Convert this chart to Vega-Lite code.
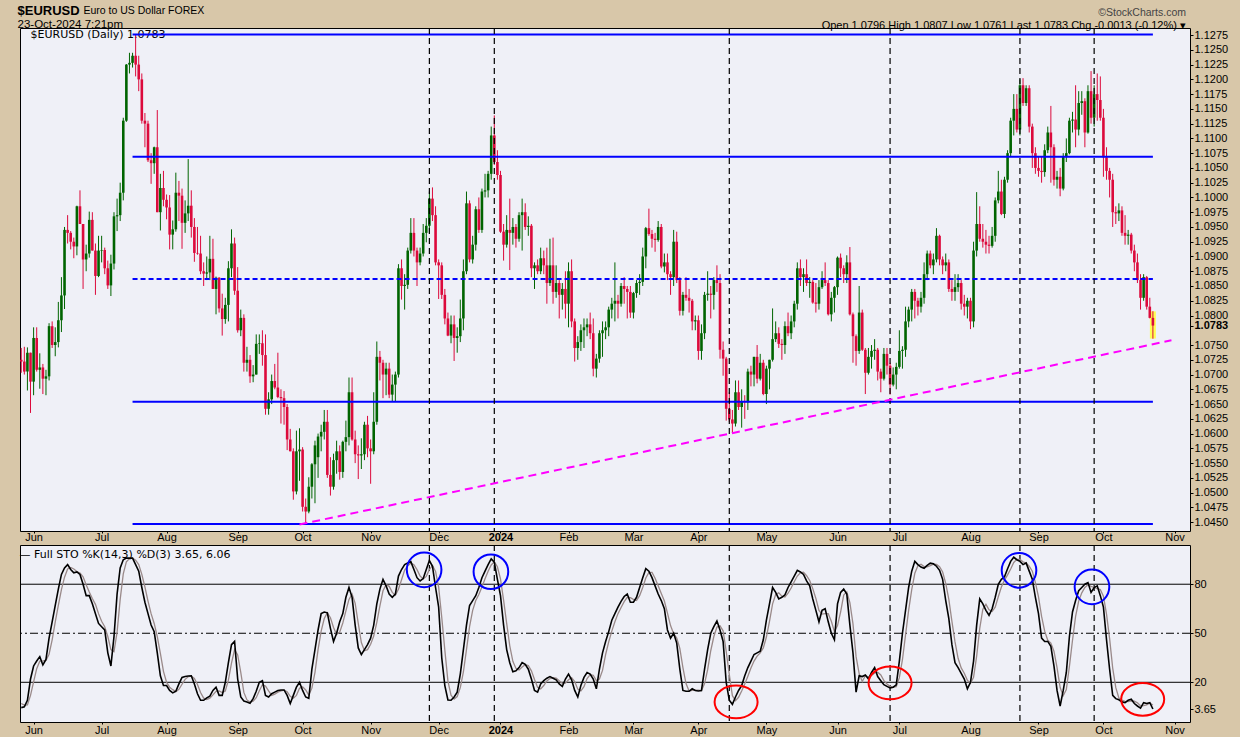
{
"$schema": "https://vega.github.io/schema/vega-lite/v6.json",
"background": "#d8c7a9",
"padding": {"left": 17, "top": 5, "right": 14, "bottom": 1},
"autosize": {"type": "pad"},
"config": {
  "view": {"fill": "#eff0f7", "stroke": "#000000", "strokeWidth": 1},
  "font": "Liberation Sans",
  "scale": {"continuousPadding": 0},
  "axis": {"labelFont": "Liberation Sans", "labelFontSize": 11, "labelColor": "#000000", "tickColor": "#000000", "domain": false, "grid": false, "labelOverlap": false}
},
"datasets": {
"px": [
{"o":1.0725,"h":1.0745,"l":1.0703,"c":1.0722,"k":4.5,"d":7},
{"o":1.0722,"h":1.0747,"l":1.0700,"c":1.0705,"k":5,"d":6},
{"o":1.0705,"h":1.0746,"l":1.0673,"c":1.0737,"k":9,"d":6.2},
{"o":1.0737,"h":1.0737,"l":1.0635,"c":1.0688,"k":22,"d":12},
{"o":1.0688,"h":1.0780,"l":1.0665,"c":1.0762,"k":30,"d":20.3},
{"o":1.0762,"h":1.0780,"l":1.0705,"c":1.0708,"k":33,"d":28.3},
{"o":1.0708,"h":1.0736,"l":1.0676,"c":1.0712,"k":35.7,"d":32.9},
{"o":1.0712,"h":1.0718,"l":1.0667,"c":1.0693,"k":30.6,"d":33.1},
{"o":1.0693,"h":1.0708,"l":1.0665,"c":1.0697,"k":34,"d":33.4},
{"o":1.0697,"h":1.0787,"l":1.0690,"c":1.0782,"k":47,"d":37.2},
{"o":1.0782,"h":1.0790,"l":1.0745,"c":1.0750,"k":57,"d":46},
{"o":1.0750,"h":1.0780,"l":1.0731,"c":1.0755,"k":67,"d":57},
{"o":1.0755,"h":1.0823,"l":1.0746,"c":1.0792,"k":77,"d":67},
{"o":1.0792,"h":1.0865,"l":1.0772,"c":1.0834,"k":86,"d":76.7},
{"o":1.0834,"h":1.0950,"l":1.0811,"c":1.0945,"k":90,"d":84.3},
{"o":1.0945,"h":1.0970,"l":1.0922,"c":1.0940,"k":92,"d":89.3},
{"o":1.0940,"h":1.0943,"l":1.0912,"c":1.0925,"k":89,"d":90.3},
{"o":1.0925,"h":1.0932,"l":1.0897,"c":1.0917,"k":87,"d":89.3},
{"o":1.0917,"h":1.0986,"l":1.0902,"c":1.0985,"k":87.5,"d":87.8},
{"o":1.0985,"h":1.1012,"l":1.0955,"c":1.0955,"k":86,"d":86.8},
{"o":1.0955,"h":1.0955,"l":1.0845,"c":1.0895,"k":80,"d":84.5},
{"o":1.0895,"h":1.0920,"l":1.0875,"c":1.0905,"k":73,"d":79.7},
{"o":1.0905,"h":1.0976,"l":1.0898,"c":1.0962,"k":73,"d":75.3},
{"o":1.0962,"h":1.0975,"l":1.0910,"c":1.0910,"k":68,"d":71.3},
{"o":1.0910,"h":1.0922,"l":1.0835,"c":1.0867,"k":62,"d":67.7},
{"o":1.0867,"h":1.0935,"l":1.0865,"c":1.0910,"k":56,"d":62},
{"o":1.0910,"h":1.0935,"l":1.0890,"c":1.0911,"k":54,"d":57.3},
{"o":1.0911,"h":1.0915,"l":1.0870,"c":1.0880,"k":52,"d":54},
{"o":1.0880,"h":1.0893,"l":1.0845,"c":1.0851,"k":38,"d":48},
{"o":1.0851,"h":1.0903,"l":1.0833,"c":1.0888,"k":30,"d":40},
{"o":1.0888,"h":1.0975,"l":1.0878,"c":1.0968,"k":48,"d":38.7},
{"o":1.0968,"h":1.0998,"l":1.0943,"c":1.0970,"k":74,"d":50.7},
{"o":1.0970,"h":1.1025,"l":1.0960,"c":1.1008,"k":90,"d":70.7},
{"o":1.1008,"h":1.1135,"l":1.0995,"c":1.1130,"k":95,"d":86.3},
{"o":1.1130,"h":1.1226,"l":1.1128,"c":1.1225,"k":96,"d":93.7},
{"o":1.1225,"h":1.1245,"l":1.1210,"c":1.1228,"k":96,"d":95.7},
{"o":1.1228,"h":1.1245,"l":1.1220,"c":1.1240,"k":96,"d":96},
{"o":1.1240,"h":1.1276,"l":1.1205,"c":1.1225,"k":92,"d":94.7},
{"o":1.1225,"h":1.1240,"l":1.1180,"c":1.1200,"k":88,"d":92},
{"o":1.1200,"h":1.1210,"l":1.1125,"c":1.1130,"k":78,"d":86},
{"o":1.1130,"h":1.1143,"l":1.1085,"c":1.1125,"k":69,"d":78.3},
{"o":1.1125,"h":1.1130,"l":1.1060,"c":1.1063,"k":62,"d":69.7},
{"o":1.1063,"h":1.1075,"l":1.1023,"c":1.1058,"k":55,"d":62},
{"o":1.1058,"h":1.1086,"l":1.1040,"c":1.1085,"k":51,"d":56},
{"o":1.1085,"h":1.1148,"l":1.0975,"c":1.0975,"k":38,"d":48},
{"o":1.0975,"h":1.1040,"l":1.0944,"c":1.1016,"k":24,"d":37.7},
{"o":1.1016,"h":1.1045,"l":1.0985,"c":1.0996,"k":18,"d":26.7},
{"o":1.0996,"h":1.1005,"l":1.0963,"c":1.0983,"k":18,"d":20},
{"o":1.0983,"h":1.1004,"l":1.0912,"c":1.0937,"k":15,"d":17},
{"o":1.0937,"h":1.0961,"l":1.0912,"c":1.0946,"k":13.5,"d":15.5},
{"o":1.0946,"h":1.1042,"l":1.0942,"c":1.1008,"k":14.5,"d":14.3},
{"o":1.1008,"h":1.1028,"l":1.0960,"c":1.1003,"k":19,"d":15.7},
{"o":1.1003,"h":1.1015,"l":1.0913,"c":1.0957,"k":23,"d":18.8},
{"o":1.0957,"h":1.0995,"l":1.0940,"c":1.0973,"k":23.5,"d":21.8},
{"o":1.0973,"h":1.1065,"l":1.0960,"c":1.0986,"k":23.8,"d":23.4},
{"o":1.0986,"h":1.1012,"l":1.0932,"c":1.0950,"k":24,"d":23.8},
{"o":1.0950,"h":1.0965,"l":1.0891,"c":1.0906,"k":19,"d":22.3},
{"o":1.0906,"h":1.0950,"l":1.0903,"c":1.0905,"k":13,"d":18.7},
{"o":1.0905,"h":1.0935,"l":1.0870,"c":1.0875,"k":9,"d":13.7},
{"o":1.0875,"h":1.0890,"l":1.0850,"c":1.0871,"k":9,"d":10.3},
{"o":1.0871,"h":1.0900,"l":1.0860,"c":1.0873,"k":10.5,"d":9.5},
{"o":1.0873,"h":1.0935,"l":1.0860,"c":1.0896,"k":11.5,"d":10.3},
{"o":1.0896,"h":1.0930,"l":1.0845,"c":1.0845,"k":15,"d":12.3},
{"o":1.0845,"h":1.0866,"l":1.0802,"c":1.0864,"k":17,"d":14.5},
{"o":1.0864,"h":1.0865,"l":1.0805,"c":1.0812,"k":12,"d":14.7},
{"o":1.0812,"h":1.0837,"l":1.0766,"c":1.0794,"k":12,"d":13.7},
{"o":1.0794,"h":1.0830,"l":1.0786,"c":1.0818,"k":20,"d":14.7},
{"o":1.0818,"h":1.0892,"l":1.0790,"c":1.0880,"k":32,"d":21.3},
{"o":1.0880,"h":1.0946,"l":1.0865,"c":1.0922,"k":43,"d":31.7},
{"o":1.0922,"h":1.0932,"l":1.0835,"c":1.0842,"k":45,"d":40},
{"o":1.0842,"h":1.0882,"l":1.0771,"c":1.0775,"k":22,"d":36.7},
{"o":1.0775,"h":1.0810,"l":1.0765,"c":1.0796,"k":11,"d":26},
{"o":1.0796,"h":1.0802,"l":1.0705,"c":1.0720,"k":8.5,"d":13.8},
{"o":1.0720,"h":1.0747,"l":1.0705,"c":1.0725,"k":8,"d":9.2},
{"o":1.0725,"h":1.0733,"l":1.0686,"c":1.0697,"k":7.2,"d":7.9},
{"o":1.0697,"h":1.0716,"l":1.0687,"c":1.0700,"k":10,"d":8.4},
{"o":1.0700,"h":1.0768,"l":1.0700,"c":1.0752,"k":14.5,"d":10.6},
{"o":1.0752,"h":1.0768,"l":1.0735,"c":1.0753,"k":20,"d":14.8},
{"o":1.0753,"h":1.0775,"l":1.0715,"c":1.0733,"k":21,"d":18.5},
{"o":1.0733,"h":1.0768,"l":1.0632,"c":1.0642,"k":12,"d":17.7},
{"o":1.0642,"h":1.0670,"l":1.0632,"c":1.0658,"k":11,"d":14.7},
{"o":1.0658,"h":1.0700,"l":1.0650,"c":1.0689,"k":13,"d":12},
{"o":1.0689,"h":1.0718,"l":1.0675,"c":1.0678,"k":14,"d":12.7},
{"o":1.0678,"h":1.0737,"l":1.0660,"c":1.0662,"k":15,"d":14},
{"o":1.0662,"h":1.0675,"l":1.0617,"c":1.0660,"k":15.3,"d":14.8},
{"o":1.0660,"h":1.0672,"l":1.0615,"c":1.0645,"k":15.3,"d":15.2},
{"o":1.0645,"h":1.0650,"l":1.0572,"c":1.0590,"k":12,"d":14.2},
{"o":1.0590,"h":1.0608,"l":1.0570,"c":1.0570,"k":7,"d":11.4},
{"o":1.0570,"h":1.0575,"l":1.0488,"c":1.0502,"k":12,"d":10.3},
{"o":1.0502,"h":1.0605,"l":1.0497,"c":1.0570,"k":17,"d":12},
{"o":1.0570,"h":1.0609,"l":1.0520,"c":1.0573,"k":20,"d":16.3},
{"o":1.0573,"h":1.0577,"l":1.0468,"c":1.0476,"k":15,"d":17.3},
{"o":1.0476,"h":1.0490,"l":1.0448,"c":1.0468,"k":11,"d":15.3},
{"o":1.0468,"h":1.0526,"l":1.0465,"c":1.0510,"k":10.2,"d":12.1},
{"o":1.0510,"h":1.0550,"l":1.0490,"c":1.0548,"k":28,"d":16.4},
{"o":1.0548,"h":1.0588,"l":1.0482,"c":1.0580,"k":40,"d":26.1},
{"o":1.0560,"h":1.0600,"l":1.0525,"c":1.0595,"k":52,"d":40},
{"o":1.0595,"h":1.0615,"l":1.0570,"c":1.0603,"k":62,"d":51.3},
{"o":1.0603,"h":1.0640,"l":1.0590,"c":1.0620,"k":63,"d":59},
{"o":1.0620,"h":1.0640,"l":1.0525,"c":1.0530,"k":62.5,"d":62.5},
{"o":1.0530,"h":1.0560,"l":1.0495,"c":1.0510,"k":53,"d":59.5},
{"o":1.0510,"h":1.0566,"l":1.0505,"c":1.0555,"k":45,"d":53.5},
{"o":1.0555,"h":1.0588,"l":1.0532,"c":1.0570,"k":50,"d":49.3},
{"o":1.0570,"h":1.0580,"l":1.0522,"c":1.0535,"k":57,"d":50.7},
{"o":1.0535,"h":1.0588,"l":1.0525,"c":1.0586,"k":62,"d":56.3},
{"o":1.0586,"h":1.0622,"l":1.0570,"c":1.0594,"k":72,"d":63.7},
{"o":1.0594,"h":1.0695,"l":1.0580,"c":1.0670,"k":78,"d":70.7},
{"o":1.0670,"h":1.0695,"l":1.0588,"c":1.0590,"k":72,"d":74},
{"o":1.0590,"h":1.0605,"l":1.0550,"c":1.0565,"k":55,"d":68.3},
{"o":1.0565,"h":1.0580,"l":1.0523,"c":1.0563,"k":41,"d":56},
{"o":1.0563,"h":1.0592,"l":1.0540,"c":1.0565,"k":37,"d":44.3},
{"o":1.0565,"h":1.0620,"l":1.0555,"c":1.0615,"k":40,"d":39.3},
{"o":1.0615,"h":1.0630,"l":1.0560,"c":1.0575,"k":43,"d":40},
{"o":1.0575,"h":1.0590,"l":1.0515,"c":1.0570,"k":47,"d":43.3},
{"o":1.0570,"h":1.0670,"l":1.0565,"c":1.0620,"k":55,"d":48.3},
{"o":1.0620,"h":1.0756,"l":1.0615,"c":1.0730,"k":68,"d":56.7},
{"o":1.0730,"h":1.0740,"l":1.0690,"c":1.0720,"k":77,"d":66.7},
{"o":1.0720,"h":1.0725,"l":1.0660,"c":1.0700,"k":83,"d":76},
{"o":1.0700,"h":1.0720,"l":1.0665,"c":1.0710,"k":79,"d":79.7},
{"o":1.0710,"h":1.0720,"l":1.0660,"c":1.0666,"k":74,"d":78.7},
{"o":1.0666,"h":1.0700,"l":1.0655,"c":1.0683,"k":72,"d":75},
{"o":1.0683,"h":1.0705,"l":1.0655,"c":1.0700,"k":74,"d":73.3},
{"o":1.0700,"h":1.0887,"l":1.0695,"c":1.0880,"k":85,"d":77},
{"o":1.0880,"h":1.0895,"l":1.0827,"c":1.0850,"k":89,"d":82.7},
{"o":1.0850,"h":1.0870,"l":1.0810,"c":1.0852,"k":92,"d":88.7},
{"o":1.0852,"h":1.0915,"l":1.0845,"c":1.0910,"k":93,"d":91.3},
{"o":1.0910,"h":1.0965,"l":1.0905,"c":1.0940,"k":93.8,"d":92.9},
{"o":1.0940,"h":1.0965,"l":1.0900,"c":1.0910,"k":89,"d":91.9},
{"o":1.0910,"h":1.0915,"l":1.0850,"c":1.0890,"k":84,"d":88.9},
{"o":1.0890,"h":1.0915,"l":1.0885,"c":1.0905,"k":82,"d":85},
{"o":1.0905,"h":1.0955,"l":1.0900,"c":1.0940,"k":83.5,"d":83.2},
{"o":1.0940,"h":1.0965,"l":1.0924,"c":1.0952,"k":89,"d":84.8},
{"o":1.0952,"h":1.1010,"l":1.0940,"c":1.0998,"k":94.5,"d":89},
{"o":1.0998,"h":1.1017,"l":1.0960,"c":1.0970,"k":91,"d":91.5},
{"o":1.0970,"h":1.0985,"l":1.0885,"c":1.0890,"k":78,"d":87.8},
{"o":1.0890,"h":1.0895,"l":1.0828,"c":1.0885,"k":66,"d":78.3},
{"o":1.0885,"h":1.0890,"l":1.0828,"c":1.0835,"k":35,"d":59.7},
{"o":1.0835,"h":1.0845,"l":1.0785,"c":1.0795,"k":18,"d":39.7},
{"o":1.0795,"h":1.0805,"l":1.0765,"c":1.0766,"k":9.2,"d":20.7},
{"o":1.0766,"h":1.0800,"l":1.0753,"c":1.0785,"k":9,"d":12.1},
{"o":1.0785,"h":1.0800,"l":1.0723,"c":1.0762,"k":11,"d":9.7},
{"o":1.0762,"h":1.0780,"l":1.0737,"c":1.0765,"k":14,"d":11.3},
{"o":1.0765,"h":1.0827,"l":1.0755,"c":1.0795,"k":25,"d":16.7},
{"o":1.0795,"h":1.0895,"l":1.0775,"c":1.0875,"k":40,"d":26.3},
{"o":1.0875,"h":1.1010,"l":1.0870,"c":1.0990,"k":55,"d":40},
{"o":1.0990,"h":1.0995,"l":1.0890,"c":1.0895,"k":67,"d":54},
{"o":1.0895,"h":1.0935,"l":1.0888,"c":1.0920,"k":70,"d":64},
{"o":1.0920,"h":1.0985,"l":1.0910,"c":1.0980,"k":73,"d":70},
{"o":1.0980,"h":1.1000,"l":1.0940,"c":1.0945,"k":78,"d":73.7},
{"o":1.0945,"h":1.1015,"l":1.0940,"c":1.1010,"k":84,"d":78.3},
{"o":1.1010,"h":1.1040,"l":1.1000,"c":1.1012,"k":88,"d":83.3},
{"o":1.1012,"h":1.1045,"l":1.1000,"c":1.1040,"k":92,"d":88},
{"o":1.1040,"h":1.1120,"l":1.1030,"c":1.1105,"k":95.5,"d":91.8},
{"o":1.1105,"h":1.1139,"l":1.1055,"c":1.1060,"k":93.5,"d":93.7},
{"o":1.1060,"h":1.1080,"l":1.1030,"c":1.1038,"k":83,"d":90.7},
{"o":1.1038,"h":1.1045,"l":1.0940,"c":1.0942,"k":73,"d":83.2},
{"o":1.0942,"h":1.0955,"l":1.0893,"c":1.0920,"k":55,"d":70.3},
{"o":1.0920,"h":1.0970,"l":1.0915,"c":1.0945,"k":40,"d":56},
{"o":1.0945,"h":1.0998,"l":1.0877,"c":1.0940,"k":32,"d":42.3},
{"o":1.0940,"h":1.0965,"l":1.0920,"c":1.0950,"k":26.5,"d":32.8},
{"o":1.0950,"h":1.0955,"l":1.0915,"c":1.0930,"k":27,"d":28.5},
{"o":1.0930,"h":1.0975,"l":1.0925,"c":1.0970,"k":29,"d":27.5},
{"o":1.0970,"h":1.0998,"l":1.0910,"c":1.0975,"k":32,"d":29.3},
{"o":1.0975,"h":1.0990,"l":1.0945,"c":1.0950,"k":31,"d":30.7},
{"o":1.0950,"h":1.0968,"l":1.0935,"c":1.0952,"k":28,"d":30.3},
{"o":1.0952,"h":1.0955,"l":1.0865,"c":1.0880,"k":22,"d":27},
{"o":1.0880,"h":1.0890,"l":1.0845,"c":1.0885,"k":15,"d":21.7},
{"o":1.0885,"h":1.0895,"l":1.0870,"c":1.0875,"k":14,"d":17},
{"o":1.0875,"h":1.0915,"l":1.0870,"c":1.0897,"k":19,"d":16},
{"o":1.0897,"h":1.0910,"l":1.0870,"c":1.0885,"k":21,"d":18},
{"o":1.0885,"h":1.0915,"l":1.0820,"c":1.0855,"k":22.5,"d":20.8},
{"o":1.0855,"h":1.0930,"l":1.0850,"c":1.0885,"k":23.5,"d":22.3},
{"o":1.0885,"h":1.0932,"l":1.0820,"c":1.0840,"k":22.5,"d":22.8},
{"o":1.0840,"h":1.0885,"l":1.0830,"c":1.0855,"k":21.5,"d":22.5},
{"o":1.0855,"h":1.0860,"l":1.0795,"c":1.0835,"k":19,"d":21},
{"o":1.0835,"h":1.0855,"l":1.0810,"c":1.0845,"k":17.5,"d":19.3},
{"o":1.0845,"h":1.0875,"l":1.0795,"c":1.0820,"k":22,"d":19.5},
{"o":1.0820,"h":1.0890,"l":1.0780,"c":1.0875,"k":25,"d":21.5},
{"o":1.0875,"h":1.0895,"l":1.0780,"c":1.0790,"k":21.5,"d":22.8},
{"o":1.0790,"h":1.0795,"l":1.0722,"c":1.0745,"k":15,"d":20.5},
{"o":1.0745,"h":1.0765,"l":1.0725,"c":1.0755,"k":11,"d":15.8},
{"o":1.0755,"h":1.0785,"l":1.0740,"c":1.0775,"k":18,"d":14.7},
{"o":1.0775,"h":1.0795,"l":1.0745,"c":1.0780,"k":23,"d":17.3},
{"o":1.0780,"h":1.0795,"l":1.0765,"c":1.0785,"k":26,"d":22.3},
{"o":1.0785,"h":1.0805,"l":1.0760,"c":1.0770,"k":25,"d":24.7},
{"o":1.0770,"h":1.0795,"l":1.0697,"c":1.0710,"k":22,"d":24.3},
{"o":1.0710,"h":1.0735,"l":1.0695,"c":1.0727,"k":16,"d":21},
{"o":1.0727,"h":1.0775,"l":1.0720,"c":1.0770,"k":28,"d":22},
{"o":1.0770,"h":1.0790,"l":1.0730,"c":1.0775,"k":38,"d":27.3},
{"o":1.0775,"h":1.0790,"l":1.0760,"c":1.0780,"k":45,"d":37},
{"o":1.0780,"h":1.0815,"l":1.0765,"c":1.0810,"k":51,"d":44.7},
{"o":1.0810,"h":1.0830,"l":1.0795,"c":1.0820,"k":58,"d":51.3},
{"o":1.0820,"h":1.0890,"l":1.0790,"c":1.0825,"k":62,"d":57},
{"o":1.0825,"h":1.0835,"l":1.0795,"c":1.0820,"k":66,"d":62},
{"o":1.0820,"h":1.0855,"l":1.0815,"c":1.0850,"k":69.5,"d":65.8},
{"o":1.0850,"h":1.0865,"l":1.0820,"c":1.0845,"k":72.5,"d":69.3},
{"o":1.0845,"h":1.0850,"l":1.0795,"c":1.0840,"k":74,"d":72},
{"o":1.0840,"h":1.0850,"l":1.0796,"c":1.0805,"k":69,"d":71.8},
{"o":1.0805,"h":1.0840,"l":1.0795,"c":1.0838,"k":69,"d":70.7},
{"o":1.0838,"h":1.0860,"l":1.0830,"c":1.0855,"k":72,"d":70},
{"o":1.0855,"h":1.0870,"l":1.0835,"c":1.0857,"k":78,"d":73},
{"o":1.0857,"h":1.0915,"l":1.0850,"c":1.0900,"k":84,"d":78},
{"o":1.0900,"h":1.0950,"l":1.0880,"c":1.0948,"k":89.5,"d":83.8},
{"o":1.0948,"h":1.0981,"l":1.0935,"c":1.0938,"k":88,"d":87.2},
{"o":1.0938,"h":1.0945,"l":1.0915,"c":1.0930,"k":84,"d":87.2},
{"o":1.0930,"h":1.0940,"l":1.0908,"c":1.0928,"k":79,"d":83.7},
{"o":1.0928,"h":1.0960,"l":1.0925,"c":1.0950,"k":74,"d":79},
{"o":1.0950,"h":1.0955,"l":1.0880,"c":1.0883,"k":70,"d":74.3},
{"o":1.0883,"h":1.0905,"l":1.0873,"c":1.0890,"k":65,"d":69.7},
{"o":1.0890,"h":1.0905,"l":1.0860,"c":1.0870,"k":52,"d":62.3},
{"o":1.0870,"h":1.0875,"l":1.0835,"c":1.0865,"k":47,"d":54.7},
{"o":1.0865,"h":1.0945,"l":1.0850,"c":1.0925,"k":50,"d":49.7},
{"o":1.0925,"h":1.0942,"l":1.0855,"c":1.0860,"k":44,"d":47},
{"o":1.0860,"h":1.0865,"l":1.0800,"c":1.0808,"k":28,"d":40.7},
{"o":1.0808,"h":1.0840,"l":1.0800,"c":1.0835,"k":15,"d":29},
{"o":1.0835,"h":1.0865,"l":1.0825,"c":1.0830,"k":14.5,"d":19.2},
{"o":1.0830,"h":1.0845,"l":1.0805,"c":1.0825,"k":14.5,"d":14.7},
{"o":1.0825,"h":1.0828,"l":1.0775,"c":1.0790,"k":16,"d":15},
{"o":1.0790,"h":1.0800,"l":1.0775,"c":1.0792,"k":15,"d":15.2},
{"o":1.0792,"h":1.0800,"l":1.0725,"c":1.0740,"k":14.7,"d":15.2},
{"o":1.0740,"h":1.0785,"l":1.0725,"c":1.0770,"k":15,"d":14.9},
{"o":1.0770,"h":1.0840,"l":1.0760,"c":1.0835,"k":28,"d":19.2},
{"o":1.0835,"h":1.0875,"l":1.0825,"c":1.0837,"k":40,"d":27.7},
{"o":1.0837,"h":1.0850,"l":1.0795,"c":1.0835,"k":50,"d":39.3},
{"o":1.0835,"h":1.0865,"l":1.0810,"c":1.0860,"k":54,"d":48},
{"o":1.0860,"h":1.0885,"l":1.0840,"c":1.0855,"k":57.5,"d":53.8},
{"o":1.0855,"h":1.0870,"l":1.0727,"c":1.0742,"k":52,"d":54.5},
{"o":1.0742,"h":1.0756,"l":1.0698,"c":1.0727,"k":45,"d":51.5},
{"o":1.0727,"h":1.0730,"l":1.0622,"c":1.0642,"k":20,"d":39},
{"o":1.0642,"h":1.0670,"l":1.0620,"c":1.0624,"k":9,"d":24.7},
{"o":1.0624,"h":1.0640,"l":1.0601,"c":1.0617,"k":6.5,"d":11.8},
{"o":1.0617,"h":1.0690,"l":1.0612,"c":1.0670,"k":11,"d":8.8},
{"o":1.0670,"h":1.0690,"l":1.0640,"c":1.0645,"k":15,"d":10.8},
{"o":1.0645,"h":1.0675,"l":1.0610,"c":1.0655,"k":18,"d":14.7},
{"o":1.0655,"h":1.0665,"l":1.0625,"c":1.0653,"k":24,"d":19},
{"o":1.0653,"h":1.0710,"l":1.0640,"c":1.0705,"k":29,"d":23.7},
{"o":1.0705,"h":1.0715,"l":1.0680,"c":1.0700,"k":33,"d":28.7},
{"o":1.0700,"h":1.0730,"l":1.0680,"c":1.0730,"k":37,"d":33},
{"o":1.0730,"h":1.0750,"l":1.0685,"c":1.0693,"k":38,"d":36},
{"o":1.0693,"h":1.0735,"l":1.0690,"c":1.0720,"k":39,"d":38},
{"o":1.0720,"h":1.0725,"l":1.0665,"c":1.0667,"k":46,"d":41},
{"o":1.0667,"h":1.0715,"l":1.0650,"c":1.0710,"k":58,"d":47.7},
{"o":1.0710,"h":1.0725,"l":1.0675,"c":1.0725,"k":68,"d":57.3},
{"o":1.0725,"h":1.0812,"l":1.0722,"c":1.0760,"k":78,"d":68},
{"o":1.0760,"h":1.0790,"l":1.0755,"c":1.0770,"k":75,"d":73.7},
{"o":1.0770,"h":1.0780,"l":1.0745,"c":1.0752,"k":71,"d":74.7},
{"o":1.0752,"h":1.0760,"l":1.0725,"c":1.0750,"k":72,"d":72.7},
{"o":1.0750,"h":1.0790,"l":1.0735,"c":1.0782,"k":73.5,"d":72.2},
{"o":1.0782,"h":1.0805,"l":1.0765,"c":1.0770,"k":78,"d":74.5},
{"o":1.0770,"h":1.0800,"l":1.0760,"c":1.0790,"k":81.5,"d":77.7},
{"o":1.0790,"h":1.0825,"l":1.0780,"c":1.0820,"k":85,"d":81.5},
{"o":1.0820,"h":1.0890,"l":1.0810,"c":1.0880,"k":88.5,"d":85},
{"o":1.0880,"h":1.0895,"l":1.0850,"c":1.0865,"k":87.5,"d":87},
{"o":1.0865,"h":1.0880,"l":1.0840,"c":1.0870,"k":86,"d":87.3},
{"o":1.0870,"h":1.0895,"l":1.0850,"c":1.0855,"k":82,"d":85.2},
{"o":1.0855,"h":1.0865,"l":1.0830,"c":1.0857,"k":79,"d":82.3},
{"o":1.0857,"h":1.0860,"l":1.0820,"c":1.0822,"k":71,"d":77.3},
{"o":1.0822,"h":1.0855,"l":1.0805,"c":1.0820,"k":64,"d":71.3},
{"o":1.0820,"h":1.0860,"l":1.0810,"c":1.0848,"k":57,"d":64},
{"o":1.0848,"h":1.0875,"l":1.0845,"c":1.0860,"k":64,"d":61.7},
{"o":1.0860,"h":1.0890,"l":1.0850,"c":1.0855,"k":65,"d":62},
{"o":1.0855,"h":1.0860,"l":1.0800,"c":1.0802,"k":57,"d":62},
{"o":1.0802,"h":1.0840,"l":1.0790,"c":1.0830,"k":50,"d":57.3},
{"o":1.0830,"h":1.0850,"l":1.0805,"c":1.0848,"k":46,"d":51},
{"o":1.0848,"h":1.0900,"l":1.0835,"c":1.0898,"k":68,"d":54.7},
{"o":1.0898,"h":1.0905,"l":1.0865,"c":1.0880,"k":75,"d":63},
{"o":1.0880,"h":1.0885,"l":1.0855,"c":1.0870,"k":77,"d":73.3},
{"o":1.0870,"h":1.0902,"l":1.0855,"c":1.0890,"k":74,"d":75.3},
{"o":1.0890,"h":1.0916,"l":1.0800,"c":1.0802,"k":55,"d":68.7},
{"o":1.0802,"h":1.0805,"l":1.0720,"c":1.0765,"k":38,"d":55.7},
{"o":1.0765,"h":1.0768,"l":1.0715,"c":1.0740,"k":14,"d":35.7},
{"o":1.0740,"h":1.0850,"l":1.0735,"c":1.0805,"k":24,"d":25.3},
{"o":1.0805,"h":1.0810,"l":1.0740,"c":1.0742,"k":23.5,"d":20.5},
{"o":1.0742,"h":1.0745,"l":1.0667,"c":1.0703,"k":24.5,"d":24},
{"o":1.0703,"h":1.0745,"l":1.0700,"c":1.0730,"k":22,"d":23.3},
{"o":1.0730,"h":1.0750,"l":1.0710,"c":1.0740,"k":26,"d":24.2},
{"o":1.0740,"h":1.0760,"l":1.0725,"c":1.0742,"k":29,"d":25.7},
{"o":1.0742,"h":1.0745,"l":1.0690,"c":1.0705,"k":23.5,"d":26.2},
{"o":1.0705,"h":1.0710,"l":1.0670,"c":1.0693,"k":21,"d":24.5},
{"o":1.0693,"h":1.0745,"l":1.0690,"c":1.0735,"k":18.5,"d":21},
{"o":1.0735,"h":1.0745,"l":1.0700,"c":1.0715,"k":17.5,"d":19},
{"o":1.0715,"h":1.0720,"l":1.0666,"c":1.0683,"k":16.5,"d":17.5},
{"o":1.0683,"h":1.0712,"l":1.0680,"c":1.0700,"k":17,"d":17},
{"o":1.0700,"h":1.0720,"l":1.0675,"c":1.0713,"k":18.4,"d":17.3},
{"o":1.0713,"h":1.0775,"l":1.0710,"c":1.0740,"k":33,"d":22.8},
{"o":1.0740,"h":1.0748,"l":1.0710,"c":1.0742,"k":50,"d":33.8},
{"o":1.0742,"h":1.0815,"l":1.0730,"c":1.0790,"k":64,"d":49},
{"o":1.0790,"h":1.0815,"l":1.0780,"c":1.0810,"k":78,"d":64},
{"o":1.0810,"h":1.0845,"l":1.0790,"c":1.0840,"k":88,"d":76.7},
{"o":1.0840,"h":1.0845,"l":1.0795,"c":1.0825,"k":94,"d":86.7},
{"o":1.0825,"h":1.0830,"l":1.0800,"c":1.0815,"k":92,"d":91.3},
{"o":1.0815,"h":1.0840,"l":1.0805,"c":1.0830,"k":90.5,"d":92.2},
{"o":1.0830,"h":1.0890,"l":1.0820,"c":1.0870,"k":89.8,"d":90.8},
{"o":1.0870,"h":1.0910,"l":1.0860,"c":1.0905,"k":91.5,"d":90.6},
{"o":1.0905,"h":1.0910,"l":1.0880,"c":1.0885,"k":92.9,"d":91.4},
{"o":1.0885,"h":1.0905,"l":1.0870,"c":1.0895,"k":92.5,"d":92.3},
{"o":1.0895,"h":1.0948,"l":1.0890,"c":1.0935,"k":91,"d":92.1},
{"o":1.0935,"h":1.0937,"l":1.0885,"c":1.0895,"k":88.5,"d":90.7},
{"o":1.0895,"h":1.0900,"l":1.0870,"c":1.0885,"k":83,"d":87.5},
{"o":1.0885,"h":1.0905,"l":1.0875,"c":1.0890,"k":70,"d":80.5},
{"o":1.0890,"h":1.0895,"l":1.0840,"c":1.0845,"k":59,"d":70.7},
{"o":1.0845,"h":1.0860,"l":1.0825,"c":1.0840,"k":43,"d":57.3},
{"o":1.0840,"h":1.0870,"l":1.0825,"c":1.0848,"k":32,"d":44.7},
{"o":1.0848,"h":1.0870,"l":1.0840,"c":1.0855,"k":29,"d":34.7},
{"o":1.0855,"h":1.0860,"l":1.0810,"c":1.0820,"k":25.5,"d":28.8},
{"o":1.0820,"h":1.0835,"l":1.0800,"c":1.0815,"k":22,"d":25.5},
{"o":1.0815,"h":1.0830,"l":1.0795,"c":1.0825,"k":16,"d":21.2},
{"o":1.0825,"h":1.0830,"l":1.0777,"c":1.0790,"k":20,"d":19.3},
{"o":1.0790,"h":1.0925,"l":1.0780,"c":1.0910,"k":33,"d":23},
{"o":1.0910,"h":1.1009,"l":1.0900,"c":1.0955,"k":55,"d":36},
{"o":1.0955,"h":1.0985,"l":1.0925,"c":1.0930,"k":71,"d":53},
{"o":1.0930,"h":1.0955,"l":1.0915,"c":1.0925,"k":68,"d":64.7},
{"o":1.0925,"h":1.0945,"l":1.0905,"c":1.0920,"k":64,"d":67.7},
{"o":1.0920,"h":1.0935,"l":1.0905,"c":1.0918,"k":61,"d":64.3},
{"o":1.0918,"h":1.0950,"l":1.0915,"c":1.0935,"k":65,"d":63.3},
{"o":1.0935,"h":1.1000,"l":1.0925,"c":1.0995,"k":72,"d":66},
{"o":1.0995,"h":1.1045,"l":1.0990,"c":1.1010,"k":80,"d":72.3},
{"o":1.1010,"h":1.1030,"l":1.0970,"c":1.0972,"k":83,"d":78.3},
{"o":1.0972,"h":1.1035,"l":1.0965,"c":1.1030,"k":84.5,"d":82.5},
{"o":1.1030,"h":1.1080,"l":1.1025,"c":1.1075,"k":89.5,"d":85.7},
{"o":1.1075,"h":1.1135,"l":1.1070,"c":1.1130,"k":94,"d":89.3},
{"o":1.1130,"h":1.1175,"l":1.1105,"c":1.1150,"k":96.5,"d":93.3},
{"o":1.1150,"h":1.1175,"l":1.1110,"c":1.1115,"k":95,"d":95.2},
{"o":1.1115,"h":1.1200,"l":1.1105,"c":1.1190,"k":94,"d":95.2},
{"o":1.1190,"h":1.1202,"l":1.1155,"c":1.1160,"k":92,"d":93.7},
{"o":1.1160,"h":1.1190,"l":1.1155,"c":1.1185,"k":93,"d":93},
{"o":1.1185,"h":1.1190,"l":1.1110,"c":1.1120,"k":88,"d":91},
{"o":1.1120,"h":1.1125,"l":1.1050,"c":1.1075,"k":83,"d":88},
{"o":1.1075,"h":1.1085,"l":1.1040,"c":1.1050,"k":72,"d":81},
{"o":1.1050,"h":1.1070,"l":1.1035,"c":1.1045,"k":62,"d":72.3},
{"o":1.1045,"h":1.1070,"l":1.1025,"c":1.1043,"k":47,"d":60.3},
{"o":1.1043,"h":1.1090,"l":1.1035,"c":1.1080,"k":45,"d":51.3},
{"o":1.1080,"h":1.1120,"l":1.1075,"c":1.1110,"k":45,"d":45.7},
{"o":1.1110,"h":1.1155,"l":1.1025,"c":1.1085,"k":42,"d":44},
{"o":1.1085,"h":1.1090,"l":1.1020,"c":1.1030,"k":30,"d":39},
{"o":1.1030,"h":1.1045,"l":1.1015,"c":1.1035,"k":15,"d":29},
{"o":1.1035,"h":1.1050,"l":1.1002,"c":1.1015,"k":5.5,"d":16.8},
{"o":1.1015,"h":1.1075,"l":1.1012,"c":1.1070,"k":15,"d":11.8},
{"o":1.1070,"h":1.1100,"l":1.1060,"c":1.1075,"k":26,"d":15.5},
{"o":1.1075,"h":1.1135,"l":1.1073,"c":1.1130,"k":48,"d":29.7},
{"o":1.1130,"h":1.1145,"l":1.1110,"c":1.1132,"k":63,"d":45.7},
{"o":1.1132,"h":1.1190,"l":1.1085,"c":1.1115,"k":70,"d":60.3},
{"o":1.1115,"h":1.1180,"l":1.1105,"c":1.1160,"k":76,"d":69.7},
{"o":1.1160,"h":1.1180,"l":1.1140,"c":1.1163,"k":78,"d":74.7},
{"o":1.1163,"h":1.1168,"l":1.1085,"c":1.1110,"k":80,"d":78},
{"o":1.1110,"h":1.1190,"l":1.1108,"c":1.1180,"k":81,"d":79.7},
{"o":1.1180,"h":1.1214,"l":1.1125,"c":1.1135,"k":75,"d":78.7},
{"o":1.1135,"h":1.1190,"l":1.1120,"c":1.1175,"k":78,"d":78},
{"o":1.1175,"h":1.1210,"l":1.1130,"c":1.1165,"k":79,"d":77.3},
{"o":1.1165,"h":1.1205,"l":1.1130,"c":1.1135,"k":73,"d":76.7},
{"o":1.1135,"h":1.1150,"l":1.1035,"c":1.1068,"k":66,"d":72.7},
{"o":1.1068,"h":1.1085,"l":1.1030,"c":1.1045,"k":46,"d":61.7},
{"o":1.1045,"h":1.1050,"l":1.1000,"c":1.1030,"k":28,"d":46.7},
{"o":1.1030,"h":1.1040,"l":1.0950,"c":1.0975,"k":12,"d":28.7},
{"o":1.0975,"h":1.0985,"l":1.0955,"c":1.0973,"k":10,"d":16.7},
{"o":1.0973,"h":1.0990,"l":1.0960,"c":1.0978,"k":9.3,"d":10.4},
{"o":1.0978,"h":1.0985,"l":1.0935,"c":1.0940,"k":8,"d":9.1},
{"o":1.0940,"h":1.0970,"l":1.0920,"c":1.0935,"k":7.5,"d":8.3},
{"o":1.0935,"h":1.0945,"l":1.0920,"c":1.0937,"k":9,"d":8.2},
{"o":1.0937,"h":1.0940,"l":1.0905,"c":1.0910,"k":9.6,"d":8.7},
{"o":1.0910,"h":1.0920,"l":1.0875,"c":1.0890,"k":7,"d":8.5},
{"o":1.0890,"h":1.0905,"l":1.0855,"c":1.0860,"k":5.5,"d":7.4},
{"o":1.0860,"h":1.0870,"l":1.0810,"c":1.0830,"k":4.2,"d":5.6},
{"o":1.0830,"h":1.0870,"l":1.0825,"c":1.0865,"k":7.5,"d":5.7},
{"o":1.0865,"h":1.0867,"l":1.0810,"c":1.0815,"k":7,"d":6.2},
{"o":1.0815,"h":1.0830,"l":1.0795,"c":1.0796,"k":7.5,"d":7.3},
{"o":1.0796,"h":1.0807,"l":1.0761,"c":1.0783,"k":3.65,"d":6.06}
],
"lv": [{"p":1.1276},{"p":1.1069},{"p":1.0654},{"p":1.0447}],
"dv": [{"p":1.0862}],
"vl": [{"i":133},{"i":154},{"i":230},{"i":282},{"i":324},{"i":348}],
"tr": [{"i":91,"p":1.0446},{"i":373,"p":1.0758}],
"bc": [{"i":131.3,"v":88.8},{"i":152.9,"v":87.6},{"i":323.7,"v":88.5},{"i":347.3,"v":78.4}],
"rc": [{"i":232.2,"v":8.0},{"i":282.0,"v":19.6},{"i":363.7,"v":9.6}],
"sl": [{"v":80},{"v":20}],
"sm": [{"v":50}]
},
"title": {"text": "$EURUSD", "subtitle": "23-Oct-2024 7:21pm", "anchor": "start", "font": "Liberation Sans", "fontSize": 13, "fontWeight": "bold", "color": "#000000", "subtitleFont": "Liberation Sans", "subtitleFontSize": 11.5, "subtitleColor": "#000000", "subtitlePadding": 1, "offset": -25.5},
"spacing": 0,
"vconcat": [
{
  "width": 1170, "height": 503,
  "title": {"text": "©StockCharts.com", "subtitle": "Open 1.0796  High 1.0807  Low 1.0761  Last 1.0783  Chg -0.0013 (-0.12%) ▾", "anchor": "end", "frame": "group", "dx": -4, "font": "Liberation Sans", "fontSize": 10.5, "fontWeight": "normal", "color": "#444444", "subtitleFont": "Liberation Sans", "subtitleFontSize": 11, "subtitleColor": "#000000", "subtitlePadding": 1, "offset": -25},
  "layer": [
    {"data": {"name": "px"}, "transform": [{"window": [{"op": "row_number", "as": "i"}]}],
     "layer": [
      {"mark": {"type": "rule", "strokeWidth": 1, "clip": true},
       "encoding": {
        "x": {"field": "i", "type": "quantitative", "scale": {"domain": [0.6, 379], "nice": false, "zero": false, "padding": 0},
              "axis": {"orient": "bottom", "values": [5,27,48,71,92,114,136,156,178,199,220,242,265,285,308,330,351,374], "tickCount": 100,
                       "labelExpr": "['Jun','Jul','Aug','Sep','Oct','Nov','Dec','2024','Feb','Mar','Apr','May','Jun','Jul','Aug','Sep','Oct','Nov'][indexof([5,27,48,71,92,114,136,156,178,199,220,242,265,285,308,330,351,374], datum.value)]",
                       "labelFontWeight": {"condition": {"test": "datum.value == 156", "value": "bold"}, "value": "normal"},
                       "tickSize": 2, "labelPadding": -2, "labelFlush": false, "labelOverlap": false,
                       "title": "Euro to US Dollar  FOREX", "titleX": 63, "titleY": -517.5, "titleAlign": "left", "titleBaseline": "alphabetic", "titleFont": "Liberation Sans", "titleFontSize": 10.5, "titleFontWeight": "normal", "titleColor": "#000000"}},
        "y": {"field": "l", "type": "quantitative", "scale": {"domain": [1.0435, 1.1287], "nice": false, "zero": false},
              "axis": {"orient": "right", "tickCount": 100, "values": [1.045,1.0475,1.05,1.0525,1.055,1.0575,1.06,1.0625,1.065,1.0675,1.07,1.0725,1.075,1.0783,1.08,1.0825,1.085,1.0875,1.09,1.0925,1.095,1.0975,1.1,1.1025,1.105,1.1075,1.11,1.1125,1.115,1.1175,1.12,1.1225,1.125,1.1275],
                       "format": ".4f", "tickSize": 3, "labelPadding": 1, "labelOverlap": false, "labelFlush": false,
                       "labelFontWeight": {"condition": {"test": "datum.value == 1.0783", "value": "bold"}, "value": "normal"},
                       "title": "$EURUSD (Daily) 1.0783", "titleAngle": 0, "titleX": -1160, "titleY": 9.5, "titleAlign": "left", "titleBaseline": "alphabetic", "titleFont": "DejaVu Sans", "titleFontSize": 11, "titleFontWeight": "normal", "titleColor": "#000000"}},
        "y2": {"field": "h"},
        "color": {"condition": {"test": "datum.c >= datum.o", "value": "#006400"}, "value": "#dc0a3c"}}},
      {"transform": [{"filter": "datum.i == 367"}], "mark": {"type": "bar", "size": 6, "color": "#ffff55"},
       "encoding": {"x": {"field": "i", "type": "quantitative"}, "y": {"field": "h", "type": "quantitative"}, "y2": {"field": "l"}}},
      {"transform": [{"filter": "datum.i == 367"}], "mark": {"type": "rule", "strokeWidth": 1, "color": "#dc0a3c"},
       "encoding": {"x": {"field": "i", "type": "quantitative"}, "y": {"field": "l", "type": "quantitative"}, "y2": {"field": "h"}}},
      {"mark": {"type": "bar", "size": 2.6, "clip": true},
       "encoding": {
        "x": {"field": "i", "type": "quantitative"},
        "y": {"field": "o", "type": "quantitative"}, "y2": {"field": "c"},
        "color": {"condition": {"test": "datum.c >= datum.o", "value": "#006400"}, "value": "#dc0a3c"}}}
     ]},
    {"data": {"name": "lv"}, "mark": {"type": "rule", "color": "#0000ff", "strokeWidth": 2},
     "encoding": {"y": {"field": "p", "type": "quantitative"}, "x": {"datum": 37}, "x2": {"datum": 367}}},
    {"data": {"name": "dv"}, "mark": {"type": "rule", "color": "#0000ff", "strokeWidth": 2, "strokeDash": [5, 3]},
     "encoding": {"y": {"field": "p", "type": "quantitative"}, "x": {"datum": 37}, "x2": {"datum": 367}}},
    {"data": {"name": "vl"}, "mark": {"type": "rule", "color": "#000000", "strokeWidth": 1.2, "strokeDash": [6, 4]},
     "encoding": {"x": {"field": "i", "type": "quantitative"}}},
    {"data": {"name": "tr"}, "mark": {"type": "line", "color": "#ff00ff", "strokeWidth": 2, "strokeDash": [8, 5]},
     "encoding": {"x": {"field": "i", "type": "quantitative"}, "y": {"field": "p", "type": "quantitative"}}}
  ]
},
{
  "width": 1170, "height": 177,
  "layer": [
    {"data": {"name": "sl"}, "mark": {"type": "rule", "color": "#000000", "strokeWidth": 1},
     "encoding": {"y": {"field": "v", "type": "quantitative", "scale": {"domain": [-4.3, 104], "nice": false, "zero": false},
       "axis": {"orient": "right", "values": [3.65, 20, 50, 80], "tickCount": 100, "labelExpr": "datum.value == 3.65 ? '3.65' : format(datum.value, 'd')", "tickSize": 3, "labelPadding": 1, "labelOverlap": false,
                "title": "— Full STO %K(14,3) %D(3) 3.65, 6.06", "titleAngle": 0, "titleX": -1171, "titleY": 12, "titleAlign": "left", "titleBaseline": "alphabetic", "titleFont": "DejaVu Sans", "titleFontSize": 11, "titleFontWeight": "normal", "titleColor": "#000000"}}}},
    {"data": {"name": "sm"}, "mark": {"type": "rule", "color": "#000000", "strokeWidth": 1, "strokeDash": [8, 3, 2, 3]},
     "encoding": {"y": {"field": "v", "type": "quantitative"}}},
    {"data": {"name": "vl"}, "mark": {"type": "rule", "color": "#000000", "strokeWidth": 1.2, "strokeDash": [6, 4]},
     "encoding": {"x": {"field": "i", "type": "quantitative", "scale": {"domain": [0.6, 379], "nice": false, "zero": false, "padding": 0},
       "axis": {"orient": "bottom", "values": [5,27,48,71,92,114,136,156,178,199,220,242,265,285,308,330,351,374], "tickCount": 100,
                "labelExpr": "['Jun','Jul','Aug','Sep','Oct','Nov','Dec','2024','Feb','Mar','Apr','May','Jun','Jul','Aug','Sep','Oct','Nov'][indexof([5,27,48,71,92,114,136,156,178,199,220,242,265,285,308,330,351,374], datum.value)]",
                "labelFontWeight": {"condition": {"test": "datum.value == 156", "value": "bold"}, "value": "normal"},
                "tickSize": 2, "labelPadding": 0, "labelFlush": false, "labelOverlap": false, "title": null}}}},
    {"data": {"name": "px"}, "transform": [{"window": [{"op": "row_number", "as": "i"}]}],
     "layer": [
      {"mark": {"type": "line", "color": "#9a8a8a", "strokeWidth": 1.3}, "encoding": {"x": {"field": "i", "type": "quantitative"}, "y": {"field": "d", "type": "quantitative"}}},
      {"mark": {"type": "line", "color": "#000000", "strokeWidth": 1.6}, "encoding": {"x": {"field": "i", "type": "quantitative"}, "y": {"field": "k", "type": "quantitative"}}}
     ]},
    {"data": {"name": "bc"}, "mark": {"type": "point", "shape": "circle", "size": 1200, "filled": false, "stroke": "#0000ff", "strokeWidth": 2, "opacity": 1},
     "encoding": {"x": {"field": "i", "type": "quantitative"}, "y": {"field": "v", "type": "quantitative"}}},
    {"data": {"name": "rc"}, "mark": {"type": "point", "shape": "M-1,0A1,0.76,0,1,1,1,0A1,0.76,0,1,1,-1,0Z", "size": 1850, "filled": false, "stroke": "#ff0000", "strokeWidth": 2, "opacity": 1},
     "encoding": {"x": {"field": "i", "type": "quantitative"}, "y": {"field": "v", "type": "quantitative"}}}
  ]
}
]
}
